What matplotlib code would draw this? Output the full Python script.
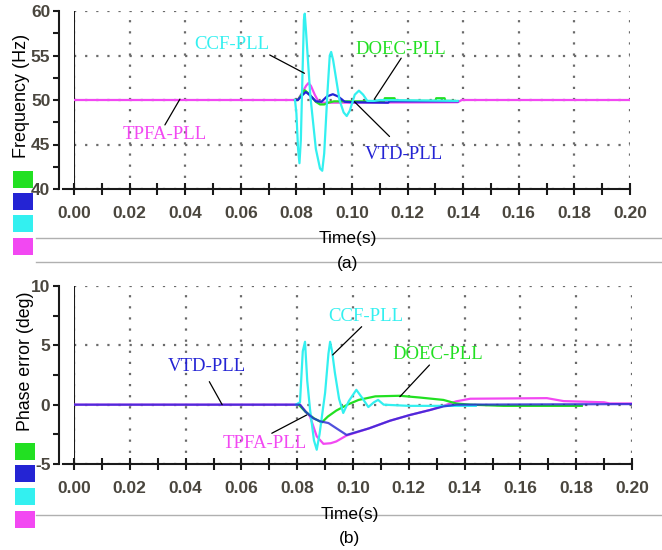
import matplotlib
matplotlib.use("Agg")
import matplotlib.pyplot as plt
from matplotlib.lines import Line2D
from matplotlib.patches import Rectangle
from matplotlib.ticker import MultipleLocator

plt.rcParams["axes.unicode_minus"] = False
plt.rcParams["font.family"] = ["Liberation Sans", "DejaVu Sans"]

GREEN = "#22E022"
BLUE = "#2424D4"
CYAN = "#33F0F0"
MAGENTA = "#F248F2"

# (a) frequency
ccf_t_a = [0.0795, 0.0800, 0.0806, 0.0811, 0.0816, 0.0822, 0.0827, 0.0830, 0.0834, 0.0850,
           0.0870, 0.0885, 0.0893, 0.0900, 0.0912, 0.0920, 0.0925, 0.0932, 0.0955, 0.0970,
           0.0981, 0.0992, 0.1010, 0.1025, 0.1040, 0.1055, 0.1080, 0.1100, 0.1380]
ccf_f = [50.0, 48.5, 44.5, 42.9, 45.5, 53.0, 59.0, 59.7, 58.0, 50.5,
         44.5, 42.3, 42.05, 44.0, 51.0, 55.0, 55.4, 54.5, 50.0, 48.6,
         48.2, 48.8, 50.6, 51.05, 50.6, 49.9, 49.9, 50.0, 49.9]

tpfa_t_a = [0.0, 0.0805, 0.0822, 0.0835, 0.0843, 0.0852, 0.0866, 0.0878, 0.0890, 0.0950,
            0.1380, 0.1395, 0.2000]
tpfa_f = [50.0, 50.0, 50.9, 51.6, 51.9, 51.6, 50.6, 49.9, 49.7, 49.7,
          49.75, 50.0, 50.0]

vtd_t_a = [0.0795, 0.0805, 0.0820, 0.0834, 0.0850, 0.0870, 0.0890, 0.0910, 0.0931, 0.0950,
           0.0974, 0.1000, 0.1130, 0.1135, 0.1380]
vtd_f = [50.0, 50.0, 50.5, 50.9, 50.5, 49.85, 49.8, 50.4, 50.65, 50.4,
         49.8, 49.75, 49.7, 49.85, 49.85]

doec_t_a = [0.0795, 0.0805, 0.0818, 0.0830, 0.0845, 0.0870, 0.0885, 0.0900, 0.0915, 0.0935,
            0.1115, 0.1118, 0.1153, 0.1156, 0.1300, 0.1303, 0.1333, 0.1336, 0.1370]
doec_f = [50.0, 50.0, 50.6, 51.1, 50.7, 49.8, 49.5, 49.5, 49.7, 49.85,
          49.85, 50.2, 50.2, 49.9, 49.9, 50.2, 50.2, 49.9, 49.9]

# (b) phase error
ccf_t_b = [0.0795, 0.0810, 0.0820, 0.0828, 0.0836, 0.0846, 0.0860, 0.0870, 0.0880, 0.0900,
           0.0912, 0.0918, 0.0925, 0.0935, 0.0950, 0.0965, 0.0985, 0.1012, 0.1035, 0.1055,
           0.1075, 0.1090, 0.1110, 0.1200, 0.1440]
ccf_err = [0.0, 0.2, 4.5, 5.3, 2.0, -0.4, -3.0, -3.8, -2.5, 1.0,
           4.3, 5.3, 4.5, 2.7, 0.5, -0.7, 0.3, 1.25, 0.5, -0.2,
           0.2, 0.4, 0.0, -0.1, -0.1]

doec_t_b = [0.0805, 0.0830, 0.0860, 0.0888, 0.0910, 0.0940, 0.0980, 0.1020, 0.1080, 0.1168,
            0.1240, 0.1324, 0.1370, 0.1420, 0.1540, 0.1820]
doec_err = [0.0, -0.6, -1.15, -1.5, -1.0, -0.5, 0.0, 0.4, 0.7, 0.75,
            0.6, 0.4, 0.1, 0.0, -0.1, -0.1]

vtd_t_b = [0.0, 0.0810, 0.0830, 0.0858, 0.0882, 0.0912, 0.0941, 0.0977, 0.1057, 0.1133,
           0.1204, 0.1276, 0.1324, 0.1370, 0.2000]
vtd_err = [0.0, 0.0, -0.6, -1.15, -1.4, -1.55, -2.0, -2.55, -2.0, -1.35,
           -0.87, -0.45, -0.15, 0.0, 0.05]

tpfa_t_b = [0.0, 0.0810, 0.0846, 0.0870, 0.0894, 0.0920, 0.0940, 0.0977, 0.1057, 0.1133,
            0.1204, 0.1276, 0.1324, 0.1370, 0.1420, 0.1695, 0.1755, 0.1900, 0.1920, 0.2000]
tpfa_err = [0.0, 0.0, -1.0, -2.67, -3.3, -3.25, -3.1, -2.6, -2.0, -1.35,
            -0.87, -0.45, -0.1, 0.28, 0.5, 0.55, 0.3, 0.2, 0.1, 0.1]

x_ticks = [0.00, 0.02, 0.04, 0.06, 0.08, 0.10, 0.12, 0.14, 0.16, 0.18, 0.20]
freq_ticks = [40, 45, 50, 55, 60]
err_ticks = [-5, 0, 5, 10]

W, H = 662, 550
fig = plt.figure(figsize=(W / 100, H / 100), dpi=100)
fig.patch.set_facecolor("white")

ax_a = fig.add_axes([74 / W, 1 - 189 / H, 556 / W, 178 / H])
ax_b = fig.add_axes([74 / W, 1 - 464 / H, 558 / W, 178 / H])

AX_OFF = 11  # px between the y-axis ruler and the plot frame
LABEL_C = "#4a463e"

for ax, yt, ylim, width_px in [(ax_a, freq_ticks, (40, 60), 556), (ax_b, err_ticks, (-5, 10), 558)]:
    ax.set_xlim(0, 0.2)
    ax.set_ylim(*ylim)
    ax.set_xticks(x_ticks)
    ax.set_xticklabels([f"{v:.2f}" for v in x_ticks])
    ax.set_yticks(yt)
    ax.xaxis.set_minor_locator(MultipleLocator(0.01))
    ax.yaxis.set_minor_locator(MultipleLocator(2.5))
    ax.grid(True, which="major", color="#6a6a6a", linestyle=(0, (1, 4)), linewidth=1.6)
    ax.set_axisbelow(True)
    for s in ("top", "right"):
        ax.spines[s].set_visible(False)
    for s in ("left", "bottom"):
        ax.spines[s].set_linewidth(1.5)
        ax.spines[s].set_color("#1a1a1a")
    ax.spines["left"].set_position(("outward", AX_OFF))
    # plot frame on the left edge, and bottom rule extended to the ruler
    ax.axvline(0, color="#1a1a1a", lw=1.5, zorder=2)
    ax.add_line(Line2D([-AX_OFF / width_px, 0], [0, 0], transform=ax.transAxes,
                       color="#1a1a1a", lw=1.5, clip_on=False))
    ax.tick_params(axis="x", which="both", direction="inout", length=8, width=1.5,
                   color="#1a1a1a", labelsize=12.5, labelcolor=LABEL_C, pad=8)
    ax.tick_params(axis="y", which="both", direction="out", length=4, width=1.5,
                   color="#1a1a1a", labelsize=12.5, labelcolor=LABEL_C, pad=2)
    for t in ax.get_xticklabels() + ax.get_yticklabels():
        t.set_fontweight("bold")
    ax.set_facecolor("none")

lw = 1.6
ax_a.plot(tpfa_t_a, tpfa_f, color=MAGENTA, lw=lw)
ax_a.plot(doec_t_a, doec_f, color=GREEN, lw=lw)
ax_a.plot(vtd_t_a, vtd_f, color=BLUE, lw=lw)
ax_a.plot(ccf_t_a, ccf_f, color=CYAN, lw=lw)

ax_b.plot(tpfa_t_b, tpfa_err, color=MAGENTA, lw=lw)
ax_b.plot(doec_t_b, doec_err, color=GREEN, lw=lw)
ax_b.plot(ccf_t_b, ccf_err, color=CYAN, lw=lw)
ax_b.plot(vtd_t_b, vtd_err, color=BLUE, lw=lw, alpha=0.8)

serif = ["Liberation Serif", "DejaVu Serif"]
leader = dict(arrowstyle="-", color="black", lw=0.9, shrinkA=0, shrinkB=0)


def label(ax, text, color, pos, start, end):
    ax.text(pos[0], pos[1], text, color=color, fontsize=13.5, family=serif,
            ha="center", va="center")
    ax.annotate("", xy=end, xytext=start, arrowprops=leader)


label(ax_a, "CCF-PLL", CYAN, (0.0567, 56.2), (0.0704, 55.06), (0.0829, 53.0))
label(ax_a, "TPFA-PLL", MAGENTA, (0.0327, 46.07), (0.0327, 47.2), (0.0381, 50.1))
label(ax_a, "DOEC-PLL", GREEN, (0.1176, 55.73), (0.1177, 54.7), (0.1080, 50.08))
label(ax_a, "VTD-PLL", BLUE, (0.1185, 43.93), (0.1135, 45.9), (0.1009, 49.8))

label(ax_b, "VTD-PLL", BLUE, (0.0477, 3.2), (0.0485, 1.94), (0.0531, 0.0))
label(ax_b, "CCF-PLL", CYAN, (0.1045, 7.41), (0.1031, 6.57), (0.0927, 4.19))
label(ax_b, "DOEC-PLL", GREEN, (0.1305, 4.19), (0.1274, 3.34), (0.1168, 0.67))
label(ax_b, "TPFA-PLL", MAGENTA, (0.0683, -3.25), (0.0709, -2.41), (0.0834, -0.87))

# y labels
fig.text(22 / W, 1 - 96 / H, "Frequency (Hz)", rotation=90, ha="center", va="center",
         fontsize=13, color="black")
fig.text(25 / W, 1 - 361 / H, "Phase error (deg)", rotation=90, ha="center", va="center",
         fontsize=12.8, color="black")

# gray separator lines
for yy in (238, 262, 515):
    fig.add_artist(Line2D([36 / W, 1.0], [1 - yy / H, 1 - yy / H], transform=fig.transFigure,
                          color="#b0b0b0", lw=1.0, zorder=1))

fig.text(348 / W, 1 - 238 / H, "Time(s)", ha="center", va="center", fontsize=12.5, zorder=3)
fig.text(348 / W, 1 - 263 / H, "(a)", ha="center", va="center", fontsize=12.5, zorder=3)
fig.text(350 / W, 1 - 515 / H, "Time(s)", ha="center", va="center", fontsize=12.5, zorder=3)
fig.text(350 / W, 1 - 538 / H, "(b)", ha="center", va="center", fontsize=12.5, zorder=3)

# colour keys on the left
key_colors = [GREEN, BLUE, CYAN, MAGENTA]
for x0, tops in [(13, (171, 193, 215, 238)), (15, (443, 465, 488, 511))]:
    for c, top in zip(key_colors, tops):
        fig.add_artist(Rectangle((x0 / W, 1 - (top + 17) / H), 20 / W, 17 / H,
                                 transform=fig.transFigure, facecolor=c, edgecolor="none"))

fig.savefig("out.png", dpi=100, facecolor="white")
